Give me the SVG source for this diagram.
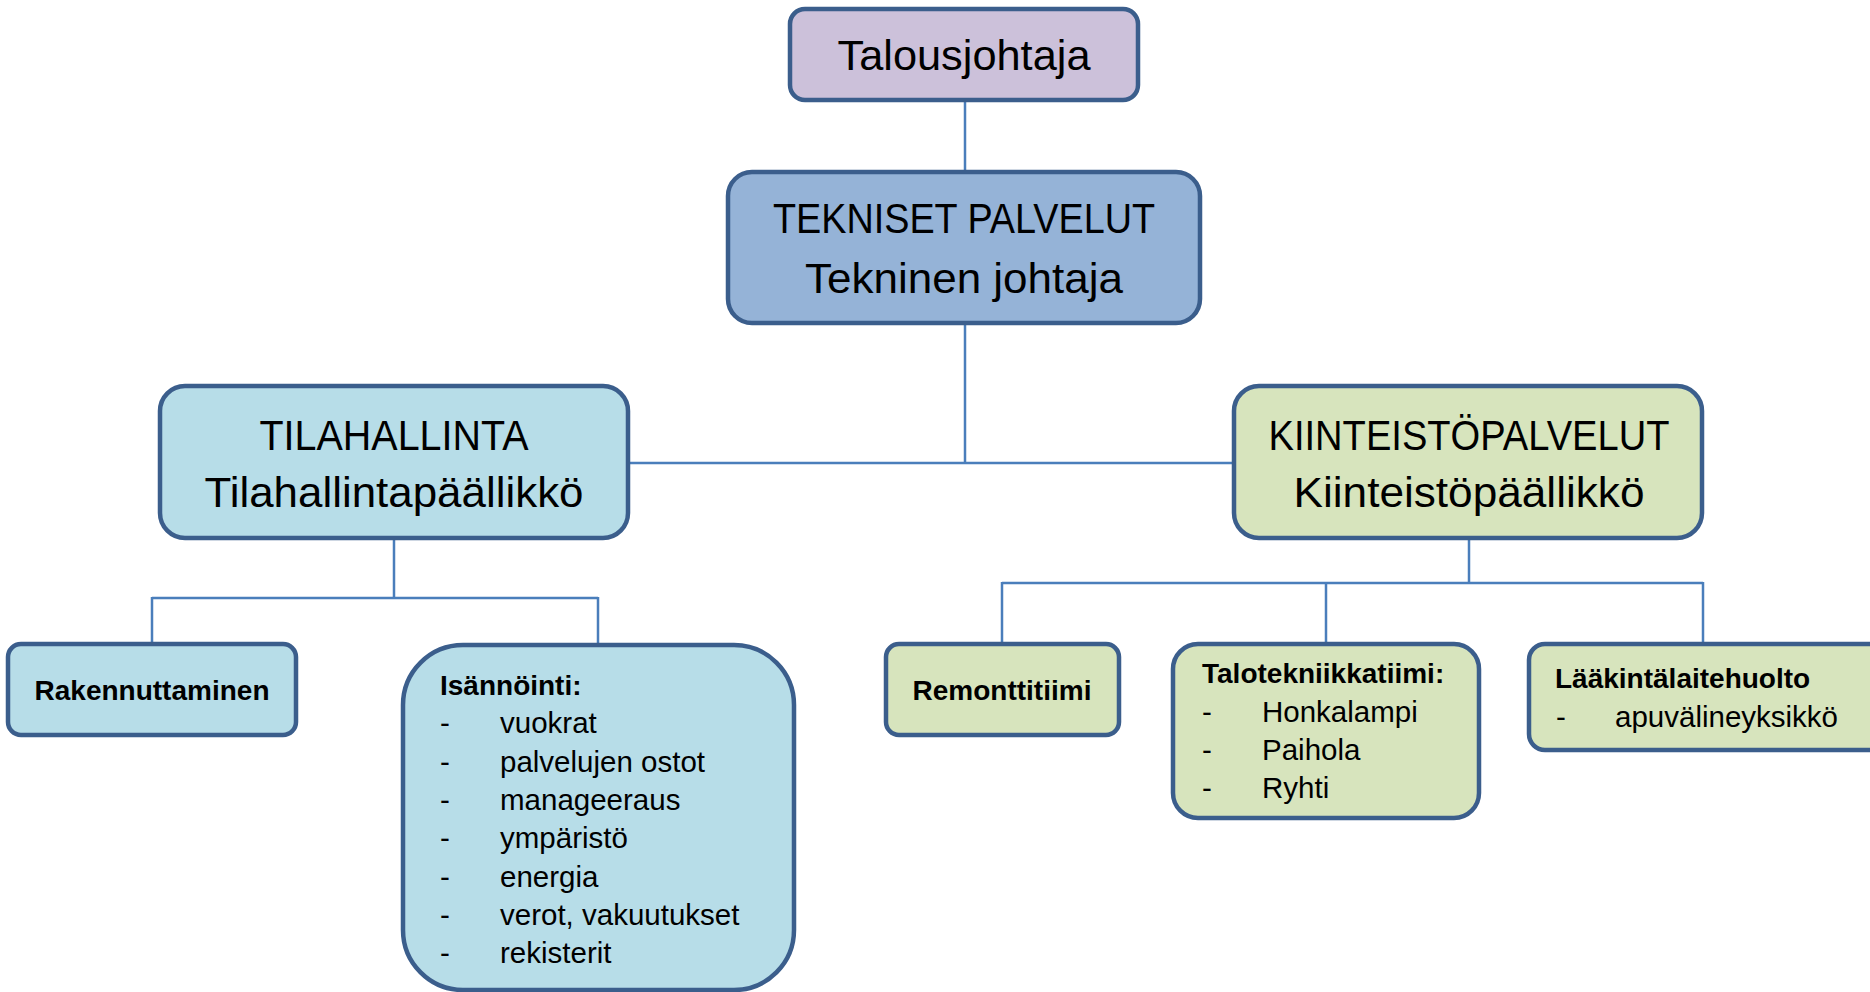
<svg xmlns="http://www.w3.org/2000/svg" width="1870" height="992" viewBox="0 0 1870 992">
<style>
.box{stroke:#3B5E8C;stroke-width:4.5}
.purple{fill:#CCC1DA}
.blue{fill:#95B3D7}
.cyan{fill:#B7DDE8}
.green{fill:#D7E4BD}
.conn line{stroke:#4A7EBB;stroke-width:2.5}
text{font-family:"Liberation Sans",Arial,sans-serif;fill:#000}
.big{font-size:42px;text-anchor:middle}
.b{font-size:28px;font-weight:bold}
.r{font-size:29.5px}
</style>
<rect width="1870" height="992" fill="#fff"/>
<g class="conn">
<line x1="965" y1="100" x2="965" y2="172"/>
<line x1="965" y1="323" x2="965" y2="463"/>
<line x1="628" y1="463" x2="1234" y2="463"/>
<line x1="394" y1="538" x2="394" y2="598"/>
<line x1="152" y1="598" x2="598" y2="598"/>
<line x1="152" y1="597" x2="152" y2="643"/>
<line x1="598" y1="597" x2="598" y2="645"/>
<line x1="1469" y1="538" x2="1469" y2="583"/>
<line x1="1002" y1="583" x2="1703" y2="583"/>
<line x1="1002" y1="582" x2="1002" y2="643"/>
<line x1="1326" y1="582" x2="1326" y2="643"/>
<line x1="1703" y1="582" x2="1703" y2="643"/>
</g>
<g id="talousjohtaja">
<rect class="box purple" x="790" y="9" width="348" height="91" rx="15"/>
<text class="big" x="964" y="70" textLength="253" lengthAdjust="spacingAndGlyphs">Talousjohtaja</text>
</g>
<g id="tekniset">
<rect class="box blue" x="728" y="172" width="472" height="151" rx="24"/>
<text class="big" x="964" y="233" textLength="382" lengthAdjust="spacingAndGlyphs">TEKNISET PALVELUT</text>
<text class="big" x="964" y="293" textLength="318" lengthAdjust="spacingAndGlyphs">Tekninen johtaja</text>
</g>
<g id="tilahallinta">
<rect class="box cyan" x="160" y="386" width="468" height="152" rx="25"/>
<text class="big" x="394" y="450" textLength="269" lengthAdjust="spacingAndGlyphs">TILAHALLINTA</text>
<text class="big" x="394" y="507" textLength="379" lengthAdjust="spacingAndGlyphs">Tilahallintapäällikkö</text>
</g>
<g id="kiinteistopalvelut">
<rect class="box green" x="1234" y="386" width="468" height="152" rx="25"/>
<text class="big" x="1469" y="450" textLength="401" lengthAdjust="spacingAndGlyphs">KIINTEISTÖPALVELUT</text>
<text class="big" x="1469" y="507" textLength="351" lengthAdjust="spacingAndGlyphs">Kiinteistöpäällikkö</text>
</g>
<g id="rakennuttaminen">
<rect class="box cyan" x="8" y="644" width="288" height="91" rx="13"/>
<text class="b" x="152" y="700" text-anchor="middle" textLength="235" lengthAdjust="spacingAndGlyphs">Rakennuttaminen</text>
</g>
<g id="isannointi">
<rect class="box cyan" x="403" y="645" width="391" height="345" rx="60"/>
<text class="b" x="440" y="695">Isännöinti:</text>
<g class="r">
<text x="440" y="733">-</text><text x="500" y="733">vuokrat</text>
<text x="440" y="772">-</text><text x="500" y="772">palvelujen ostot</text>
<text x="440" y="810">-</text><text x="500" y="810">manageeraus</text>
<text x="440" y="848">-</text><text x="500" y="848">ympäristö</text>
<text x="440" y="887">-</text><text x="500" y="887">energia</text>
<text x="440" y="925">-</text><text x="500" y="925">verot, vakuutukset</text>
<text x="440" y="963">-</text><text x="500" y="963">rekisterit</text>
</g>
</g>
<g id="remonttitiimi">
<rect class="box green" x="886" y="644" width="233" height="91" rx="13"/>
<text class="b" x="1002" y="700" text-anchor="middle">Remonttitiimi</text>
</g>
<g id="talotekniikkatiimi">
<rect class="box green" x="1173" y="644" width="306" height="174" rx="25"/>
<text class="b" x="1202" y="683">Talotekniikkatiimi:</text>
<g class="r">
<text x="1202" y="722">-</text><text x="1262" y="722">Honkalampi</text>
<text x="1202" y="760">-</text><text x="1262" y="760">Paihola</text>
<text x="1202" y="798">-</text><text x="1262" y="798">Ryhti</text>
</g>
</g>
<g id="laakintalaitehuolto">
<rect class="box green" x="1529" y="644" width="370" height="106" rx="16"/>
<text class="b" x="1555" y="688">Lääkintälaitehuolto</text>
<text class="r" x="1556" y="727">-</text><text class="r" x="1615" y="727">apuvälineyksikkö</text>
</g>
</svg>
